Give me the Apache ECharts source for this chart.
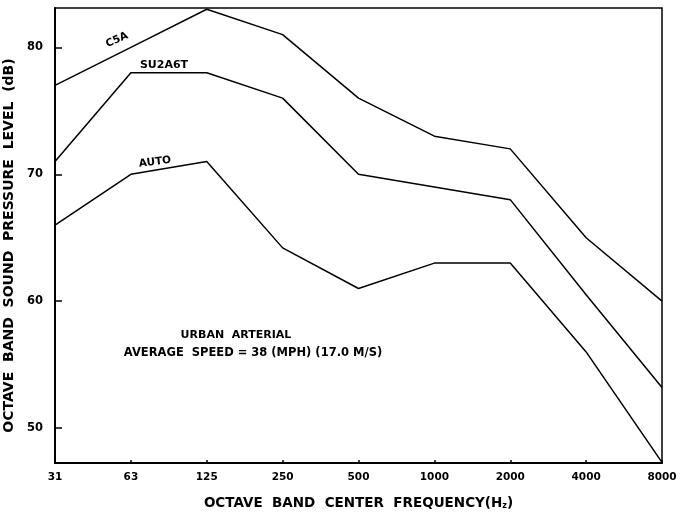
<!DOCTYPE html>
<html>
<head>
<meta charset="utf-8">
<script src="https://cdn.jsdelivr.net/npm/echarts@6/dist/echarts.min.js"></script>
<style>html,body{margin:0;padding:0;background:#fff}#c{width:680px;height:512px}</style>
</head>
<body>
<div id="c"></div>
<script>
const categories = ['31', '63', '125', '250', '500', '1000', '2000', '4000', '8000'];
const c5a    = [77, 80, 83, 81, 76, 73, 72, 65, 60];
const su2a6t = [71, 78, 78, 76, 70, 69, 68, 60.5, 53.2];
const auto   = [66, 70, 71, 64.2, 61, 63, 63, 56, 47.3];
const yTicks = [50, 60, 70, 80];

const FONT = 'DejaVu Sans';
const chart = echarts.init(document.getElementById('c'));
const lineStyle = { color: '#000', width: 1.5 };
function mkSeries(name, data) {
  return { name, type: 'line', data, symbol: 'none', lineStyle, silent: true, animation: false };
}
chart.setOption({
  animation: false,
  grid: { left: 55, right: 18, top: 8, bottom: 49, containLabel: false, outerBoundsMode: 'none',
          show: true, borderColor: '#000', borderWidth: 1.5 },
  xAxis: {
    type: 'category', data: categories, boundaryGap: false,
    axisLine: { lineStyle: { color: '#000', width: 2 } },
    axisTick: { show: true, inside: true, length: 3, alignWithLabel: true, lineStyle: { color: '#000', width: 1.5 } },
    axisLabel: { color: '#000', fontFamily: FONT, fontWeight: 'bold', fontSize: 10.5, margin: 9 },
    splitLine: { show: false },
    name: 'OCTAVE  BAND  CENTER  FREQUENCY(H{sub|z})',
    nameLocation: 'middle', nameGap: 33,
    nameTextStyle: {
      color: '#000', fontFamily: FONT, fontWeight: 'bold', fontSize: 13.5,
      rich: { sub: { fontSize: 8, fontFamily: FONT, fontWeight: 'bold', color: '#000', verticalAlign: 'bottom', padding: [6, 0, 0, 0] } }
    }
  },
  yAxis: {
    type: 'value', min: 47.25, max: 83.1,
    axisLine: { show: true, lineStyle: { color: '#000', width: 2 } },
    axisTick: { show: true, inside: true, length: 7, customValues: yTicks, lineStyle: { color: '#000', width: 1.5 } },
    axisLabel: { color: '#000', fontFamily: FONT, fontWeight: 'bold', fontSize: 11.5, margin: 12, customValues: yTicks },
    splitLine: { show: false },
    name: 'OCTAVE  BAND  SOUND  PRESSURE  LEVEL  (dB)',
    nameLocation: 'middle', nameGap: 37, nameRotate: 90,
    nameTextStyle: { color: '#000', fontFamily: FONT, fontWeight: 'bold', fontSize: 14, padding: [0, 20, 0, 0] }
  },
  series: [mkSeries('C5A', c5a), mkSeries('SU2A6T', su2a6t), mkSeries('AUTO', auto)],
  graphic: [
    { type: 'text', x: 117, y: 40, rotation: 0.42, style: { text: 'C5A', font: 'bold 10.5px "DejaVu Sans"', fill: '#000', align: 'center', verticalAlign: 'middle' } },
    { type: 'text', x: 164, y: 65, style: { text: 'SU2A6T', font: 'bold 11px "DejaVu Sans"', fill: '#000', align: 'center', verticalAlign: 'middle' } },
    { type: 'text', x: 155, y: 162, rotation: 0.12, style: { text: 'AUTO', font: 'bold 10.5px "DejaVu Sans"', fill: '#000', align: 'center', verticalAlign: 'middle' } },
    { type: 'text', x: 236, y: 335, style: { text: 'URBAN  ARTERIAL', font: 'bold 11px "DejaVu Sans"', fill: '#000', align: 'center', verticalAlign: 'middle' } },
    { type: 'text', x: 253, y: 353, style: { text: 'AVERAGE  SPEED = 38 (MPH) (17.0 M/S)', font: 'bold 11.5px "DejaVu Sans"', fill: '#000', align: 'center', verticalAlign: 'middle' } }
  ]
});
</script>
</body>
</html>
